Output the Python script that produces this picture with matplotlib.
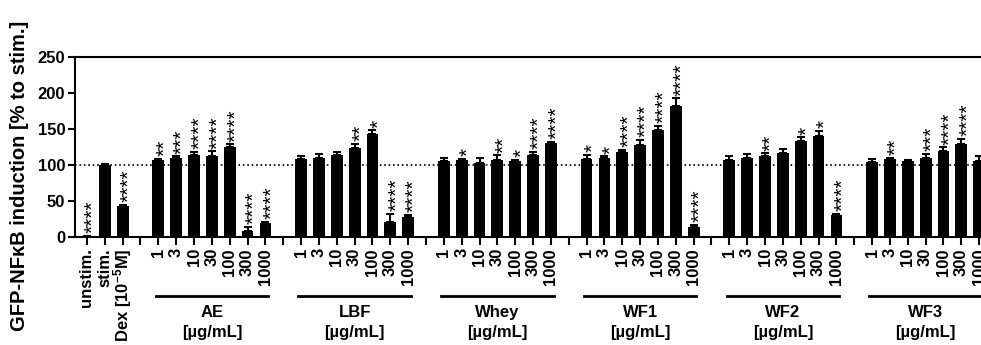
import numpy as np
import matplotlib
matplotlib.use('Agg')
import matplotlib.pyplot as plt
import matplotlib.transforms as mtransforms

plt.rcParams['font.family'] = 'Liberation Sans'
plt.rcParams['font.weight'] = 'bold'
plt.rcParams['mathtext.default'] = 'regular'

control_labels = ['unstim.', 'stim.', 'Dex [10$^{-5}$M]']
control_values = [1, 100, 42.5]
control_errors = [0.5, 1, 2]
control_stars = ['****', '', '****']

doses = ['1', '3', '10', '30', '100', '300', '1000']
groups = ['AE', 'LBF', 'Whey', 'WF1', 'WF2', 'WF3']
unit = '[µg/mL]'

ae_values = [107, 110, 114, 112, 125.5, 9, 19]
ae_errors = [2, 2, 4, 7, 3, 5, 2]
ae_stars = ['**', '***', '****', '****', '****', '****', '****']

lbf_values = [108, 110, 114.5, 123, 142.5, 21.5, 28]
lbf_errors = [5, 5.5, 3, 6.5, 5.5, 11, 3]
lbf_stars = ['', '', '', '**', '*', '****', '****']

whey_values = [105.5, 107, 103, 107, 105.5, 114, 130]
whey_errors = [4, 1, 7, 6.5, 2, 4, 2]
whey_stars = ['', '*', '', '**', '*', '****', '****']

wf1_values = [109, 110, 118, 127.5, 148, 182.5, 14]
wf1_errors = [5, 2, 3, 7, 6, 10, 3]
wf1_stars = ['*', '*', '****', '****', '****', '****', '****']

wf2_values = [107, 110, 113, 117, 133.5, 140, 31]
wf2_errors = [5, 5.5, 3, 5.5, 5, 7, 1.5]
wf2_stars = ['', '', '**', '', '*', '*', '****']

wf3_values = [104, 108, 106, 110, 119.5, 129.5, 105.5]
wf3_errors = [4, 2, 1.5, 5, 5, 6.5, 7.5]
wf3_stars = ['', '**', '', '***', '****', '****', '']


def main():
    group_values = [ae_values, lbf_values, whey_values, wf1_values, wf2_values, wf3_values]
    group_errors = [ae_errors, lbf_errors, whey_errors, wf1_errors, wf2_errors, wf3_errors]
    group_stars = [ae_stars, lbf_stars, whey_stars, wf1_stars, wf2_stars, wf3_stars]

    positions = list(range(len(control_values)))
    values = list(control_values)
    errors = list(control_errors)
    stars = list(control_stars)
    tick_pos = list(positions)
    tick_labels = list(control_labels)
    group_starts = []

    start = len(control_values) + 1
    for vals, errs, sts in zip(group_values, group_errors, group_stars):
        tick_pos.append(start - 1)
        tick_labels.append('')
        group_starts.append(start)
        for j in range(len(doses)):
            positions.append(start + j)
            values.append(vals[j])
            errors.append(errs[j])
            stars.append(sts[j])
            tick_pos.append(start + j)
            tick_labels.append(doses[j])
        start += len(doses) + 1

    fig = plt.figure(figsize=(9.81, 3.45), dpi=100)
    ax = fig.add_axes([75 / 981, 108 / 345, 922 / 981, 180 / 345])

    ax.axhline(100, ls=':', lw=1.2, color='black', zorder=0.5)
    ax.bar(positions, values, width=0.66, color='black', zorder=2,
           yerr=[np.zeros(len(errors)), errors], capsize=3,
           error_kw=dict(elinewidth=1.5, capthick=1.5, ecolor='black'))

    # asterisks sit high in the em box, so nudge the rotated text right
    for p, v, e, s in zip(positions, values, errors, stars):
        if s:
            ax.annotate(s, (p, v + e), xytext=(4.5, 2), textcoords='offset points',
                        rotation=90, ha='center', va='bottom',
                        fontsize=15, fontweight='normal')

    ax.set_xlim(-0.67, 51)
    ax.set_ylim(0, 250)
    ax.set_yticks(range(0, 251, 50))
    ax.set_xticks(tick_pos)
    ax.set_xticklabels(tick_labels, rotation=90, va='top', ha='center')
    ax.tick_params(axis='x', length=6, width=1.5, pad=2, labelsize=12)
    ax.tick_params(axis='y', length=5, width=1.5, pad=2, labelsize=12)
    for side in ['left', 'bottom', 'top']:
        ax.spines[side].set_linewidth(1.5)
    ax.spines['right'].set_visible(False)

    trans = mtransforms.blended_transform_factory(ax.transData, ax.transAxes)
    for name, s in zip(groups, group_starts):
        ax.plot([s - 0.15, s + 6.15], [-0.328, -0.328], transform=trans,
                clip_on=False, color='black', lw=2)
        ax.text(s + 3, -0.42, name, transform=trans, ha='center', va='center', fontsize=12)
        ax.text(s + 3, -0.53, unit, transform=trans, ha='center', va='center', fontsize=12)

    fig.text(20 / 981, 1 - 176 / 345, 'GFP-NFκB induction [% to stim.]', rotation=90,
             ha='center', va='center', fontsize=14.5)

    fig.savefig('out.png', dpi=100)


if __name__ == '__main__':
    main()
